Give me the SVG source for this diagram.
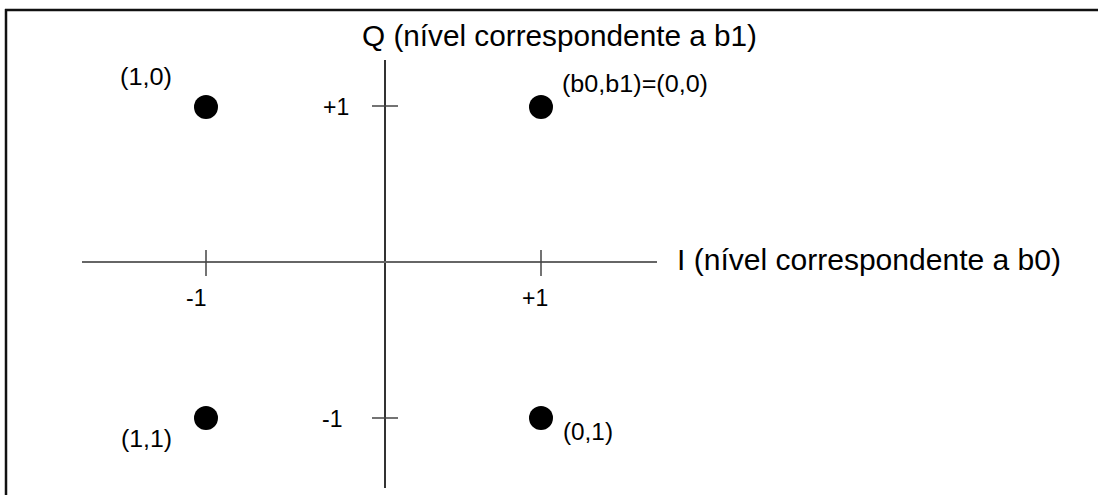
<svg xmlns="http://www.w3.org/2000/svg" width="1098" height="495" viewBox="0 0 1098 495">
<style>
.frame{fill:none;stroke:#111;stroke-width:2.5}
.axis{stroke-width:2;fill:none}
.tick{stroke:#444;stroke-width:1.5}
.dot{fill:#000}
.big{font-family:"Liberation Sans",Arial,sans-serif;font-size:29px;fill:#000}
.lbl{font-family:"Liberation Sans",Arial,sans-serif;font-size:23px;fill:#000}
</style>
<rect width="1098" height="495" fill="#fff"/>
<g id="frame">
<line class="frame" x1="6" y1="9" x2="6" y2="495"/>
<line class="frame" x1="5" y1="10" x2="1098" y2="10"/>
</g>
<g id="connectors">
<line class="axis" x1="385" y1="60" x2="385" y2="488" stroke="#333"/>
<line class="axis" x1="82" y1="262" x2="657" y2="262" stroke="#666"/>
<line class="tick" x1="206" y1="250" x2="206" y2="276"/>
<line class="tick" x1="541" y1="250" x2="541" y2="276"/>
<line class="tick" x1="372" y1="106" x2="398" y2="106"/>
<line class="tick" x1="372" y1="418" x2="398" y2="418"/>
</g>
<g id="title-q"><text class="big" x="362" y="46" textLength="395" lengthAdjust="spacingAndGlyphs">Q (nível correspondente a b1)</text></g>
<g id="title-i"><text class="big" x="677" y="270" textLength="384" lengthAdjust="spacingAndGlyphs">I (nível correspondente a b0)</text></g>
<g id="p10"><circle class="dot" cx="206" cy="107" r="12"/><text class="lbl" x="120" y="85" textLength="52" lengthAdjust="spacingAndGlyphs">(1,0)</text></g>
<g id="p00"><circle class="dot" cx="541" cy="107" r="12"/><text class="lbl" x="562" y="92" textLength="146" lengthAdjust="spacingAndGlyphs">(b0,b1)=(0,0)</text></g>
<g id="p11"><circle class="dot" cx="206" cy="418" r="12"/><text class="lbl" x="121" y="447" textLength="51" lengthAdjust="spacingAndGlyphs">(1,1)</text></g>
<g id="p01"><circle class="dot" cx="541" cy="418" r="12"/><text class="lbl" x="563" y="440" textLength="50" lengthAdjust="spacingAndGlyphs">(0,1)</text></g>
<g id="ticklabels">
<text class="lbl" x="323" y="115">+1</text>
<text class="lbl" x="322" y="427">-1</text>
<text class="lbl" x="186" y="306">-1</text>
<text class="lbl" x="522" y="306">+1</text>
</g>
</svg>
